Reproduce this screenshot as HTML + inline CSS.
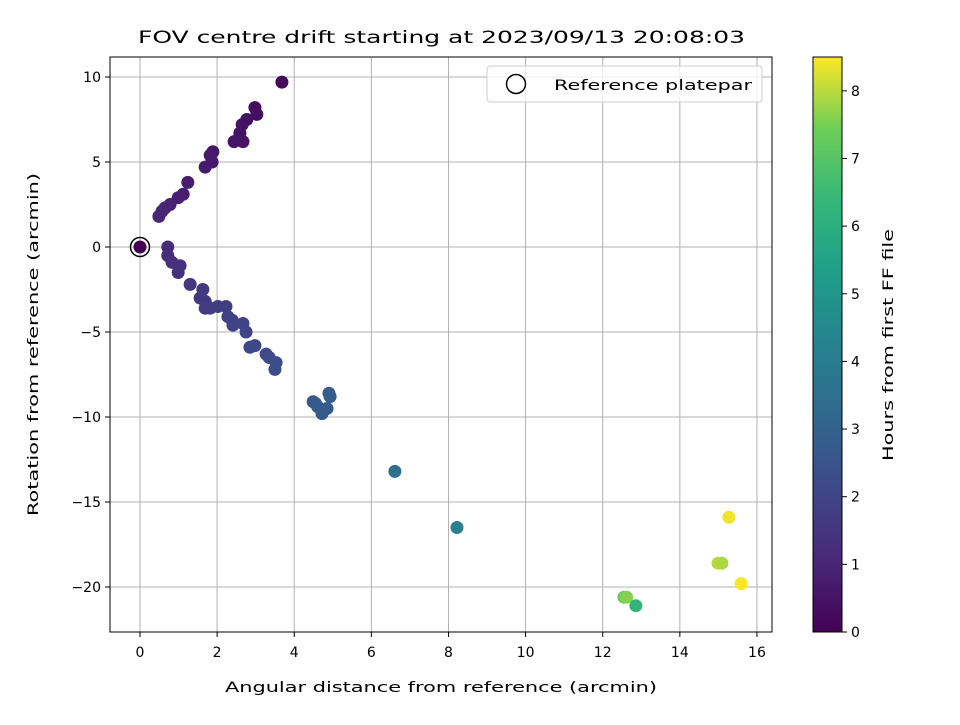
<!DOCTYPE html>
<html><head><meta charset="utf-8"><style>
body{margin:0;background:#fff}
svg text{font-family:"DejaVu Sans","Liberation Sans",sans-serif;fill:#000;font-size:14px}
svg text.t{font-size:17px}
</style></head><body>
<svg id="c" width="960" height="720" xmlns="http://www.w3.org/2000/svg">
<defs><linearGradient id="vir" x1="0" y1="1" x2="0" y2="0">
<stop offset="0" stop-color="#440154"/><stop offset="0.125" stop-color="#482878"/><stop offset="0.25" stop-color="#3e4989"/><stop offset="0.375" stop-color="#31688e"/><stop offset="0.5" stop-color="#26828e"/><stop offset="0.625" stop-color="#1f9e89"/><stop offset="0.75" stop-color="#35b779"/><stop offset="0.875" stop-color="#6ece58"/><stop offset="1" stop-color="#fde725"/></linearGradient></defs>
<rect x="0" y="0" width="960" height="720" fill="#fff"/>
<text class="t" x="138" y="43" textLength="607" lengthAdjust="spacingAndGlyphs">FOV centre drift starting at 2023/09/13 20:08:03</text>
<g id="grid"></g><g id="pts"></g>
<rect x="110" y="57" width="662" height="575" fill="none" stroke="#000" stroke-width="1"/>
<g id="ticks"></g>
<text x="225" y="692" textLength="432" lengthAdjust="spacingAndGlyphs">Angular distance from reference (arcmin)</text>
<text transform="translate(38,516) rotate(-90)" textLength="343" lengthAdjust="spacingAndGlyphs">Rotation from reference (arcmin)</text>
<g>
<rect x="487" y="66" width="275" height="36" rx="3" fill="#fff" fill-opacity="0.8" stroke="#ccc"/>
<circle cx="516" cy="84" r="9.5" fill="none" stroke="#000" stroke-width="1.5"/>
<text x="554" y="90" textLength="198" lengthAdjust="spacingAndGlyphs">Reference platepar</text></g>
<rect x="813" y="57" width="29" height="575" fill="url(#vir)" stroke="#000"/>
<g id="cb"></g>
<text transform="translate(893,461) rotate(-90)" textLength="232" lengthAdjust="spacingAndGlyphs">Hours from first FF file</text>
</svg>
<script>
const xs=[0,3.68,2.98,3.03,2.77,2.65,2.59,2.67,2.44,1.89,1.82,1.87,1.69,1.24,1.12,0.99,0.78,0.65,0.57,0.49,0.72,0.72,0.83,1.04,0.99,1.30,1.63,1.56,1.69,1.69,1.82,2.02,2.23,2.28,2.39,2.41,2.67,2.75,2.85,2.98,3.27,3.35,3.53,3.50,4.49,4.61,4.72,4.85,4.93,4.90,4.55,6.61,8.22,12.55,12.62,12.86,14.99,15.09,15.27,15.59];
const ys=[0,9.7,8.2,7.8,7.5,7.2,6.7,6.2,6.2,5.6,5.4,5.0,4.7,3.8,3.1,2.9,2.5,2.3,2.1,1.8,0,-0.5,-0.9,-1.1,-1.5,-2.2,-2.5,-3.0,-3.2,-3.6,-3.6,-3.5,-3.5,-4.1,-4.3,-4.6,-4.5,-5.0,-5.9,-5.8,-6.3,-6.5,-6.8,-7.2,-9.1,-9.4,-9.8,-9.5,-8.8,-8.6,-9.2,-13.2,-16.5,-20.6,-20.6,-21.1,-18.6,-18.6,-15.9,-19.8];
const hrs=[0,0.2,0.3,0.35,0.4,0.45,0.5,0.5,0.55,0.6,0.65,0.65,0.7,0.75,0.8,0.85,0.9,0.95,1.0,1.0,1.2,1.25,1.3,1.35,1.4,1.5,1.6,1.6,1.65,1.7,1.7,1.75,1.8,1.85,1.9,1.9,1.95,2.0,2.05,2.1,2.15,2.2,2.25,2.25,2.6,2.65,2.7,2.75,2.8,2.8,2.7,3.5,4.2,7.3,7.6,6.3,8.0,7.9,8.4,8.5];
const xticks=[0,2,4,6,8,10,12,14,16];
const yticks=[10,5,0,-5,-10,-15,-20];
const cticks=[0,1,2,3,4,5,6,7,8];
const X=v=>140+v*38.56, Y=v=>247-v*17, C=v=>632-v*(575/8.5);
const ns="http://www.w3.org/2000/svg";
function mk(p,t,a){const e=document.createElementNS(ns,t);for(const k in a)e.setAttribute(k,a[k]);document.getElementById(p).appendChild(e);return e;}
const stops=[[68,1,84],[72,40,120],[62,73,137],[49,104,142],[38,130,142],[31,158,137],[53,183,121],[110,206,88],[253,231,37]];
function vir(h){let t=Math.max(0,Math.min(1,h/8.5))*8,i=Math.min(7,Math.floor(t)),f=t-i,a=stops[i],b=stops[i+1];return `rgb(${a.map((v,k)=>Math.round(v+(b[k]-v)*f)).join(',')})`;}
xticks.forEach(v=>{const l=mk('grid','line',{x1:X(v),x2:X(v),y1:57,y2:632,stroke:'#b0b0b0','stroke-width':1});
mk('ticks','line',{x1:X(v),x2:X(v),y1:632,y2:637,stroke:'#000'});
const s=mk('ticks','text',{x:X(v),y:657,'text-anchor':'middle'});s.textContent=v;});
yticks.forEach(v=>{const l=mk('grid','line',{x1:110,x2:772,y1:Y(v),y2:Y(v),stroke:'#b0b0b0','stroke-width':1});
mk('ticks','line',{x1:105,x2:110,y1:Y(v),y2:Y(v),stroke:'#000'});
const s=mk('ticks','text',{x:101,y:Y(v)+5,'text-anchor':'end'});s.textContent=String(v).replace('-','\u2212');});
cticks.forEach(v=>{mk('cb','line',{x1:842,x2:847,y1:C(v),y2:C(v),stroke:'#000'});
const s=mk('cb','text',{x:851,y:C(v)+5});s.textContent=v;});
xs.forEach((x,i)=>{const c=mk('pts','circle',{cx:X(x),cy:Y(ys[i]),r:6.5,fill:vir(hrs[i])});});
const r=mk('pts','circle',{cx:X(0),cy:Y(0),r:9.5,fill:'none',stroke:'#000','stroke-width':1.5});


</script>
</body></html>
